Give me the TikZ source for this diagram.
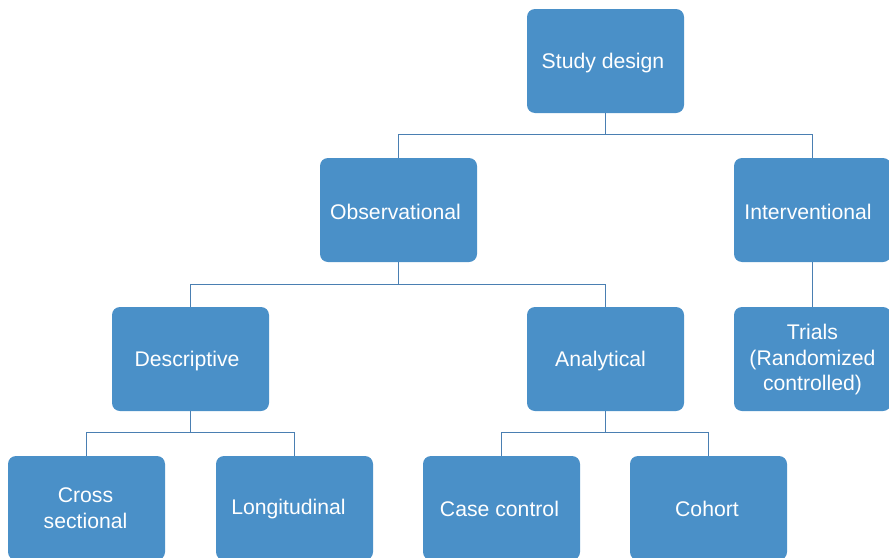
\documentclass[tikz,border=0pt]{standalone}
\usepackage{fontspec}
\setmainfont{Liberation Sans}
\definecolor{boxblue}{HTML}{4A90C8}
\definecolor{linkblue}{HTML}{4A7FB2}
\begin{document}
\begin{tikzpicture}[x=1pt,y=-1pt,
  box/.style={fill=boxblue, rounded corners=8pt, minimum width=157pt, minimum height=104pt,
    inner sep=0pt, draw=none},
  lbl/.style={text=white, align=center, inner sep=0pt, font=\fontsize{21.2}{25.5}\selectfont},
  link/.style={draw=linkblue, line width=1.2pt}]
\useasboundingbox (0,0) rectangle (889,557);
\node[box] (sd) at (605.5,61) {};
\node[box] (obs) at (398.5,210) {};
\node[box] (int) at (812.5,210) {};
\node[box] (des) at (190.5,359) {};
\node[box] (ana) at (605.5,359) {};
\node[box] (tri) at (812.5,359) {};
\node[box] (cro) at (86.5,508) {};
\node[box] (lon) at (294.5,508) {};
\node[box] (cas) at (501.5,508) {};
\node[box] (coh) at (708.5,508) {};
\node[lbl] (sdt) at ([shift={(-2.5,2)}]sd.center) {Study design};
\node[lbl] (obst) at ([shift={(-3,2)}]obs.center) {Observational};
\node[lbl] (intt) at ([shift={(-4.5,2)}]int.center) {Interventional};
\node[lbl] (dest) at ([shift={(-3.5,2)}]des.center) {Descriptive};
\node[lbl] (anat) at ([shift={(-5,2)}]ana.center) {Analytical};
\node[lbl] (trit) at ([shift={(0,1)}]tri.center) {Trials\\(Randomized\\controlled)};
\node[lbl] (crot) at ([shift={(-1,0)}]cro.center) {Cross\\sectional};
\node[lbl] (lont) at ([shift={(-6,1)}]lon.center) {Longitudinal};
\node[lbl] (cast) at ([shift={(-2,1)}]cas.center) {Case control};
\node[lbl] (coht) at ([shift={(-1.5,1)}]coh.center) {Cohort};
\draw[link] (sd.south) -- ++(0,21) -| (obs.north);
\draw[link] (sd.south) -- ++(0,21) -| (int.north);
\draw[link] (obs.south) -- ++(0,22) -| (des.north);
\draw[link] (obs.south) -- ++(0,22) -| (ana.north);
\draw[link] (int.south) -- (tri.north);
\draw[link] (des.south) -- ++(0,21) -| (cro.north);
\draw[link] (des.south) -- ++(0,21) -| (lon.north);
\draw[link] (ana.south) -- ++(0,21) -| (cas.north);
\draw[link] (ana.south) -- ++(0,21) -| (coh.north);
\end{tikzpicture}
\end{document}
